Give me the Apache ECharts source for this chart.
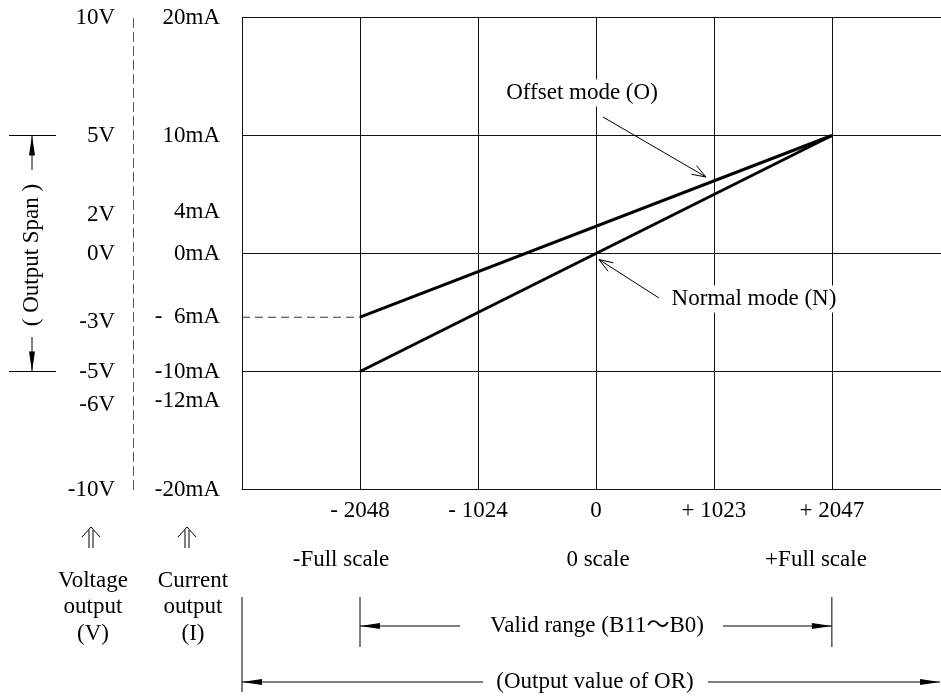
<!DOCTYPE html>
<html>
<head>
<meta charset="utf-8">
<script src="https://cdn.jsdelivr.net/npm/echarts@6/dist/echarts.min.js"></script>
<style>
html,body{margin:0;padding:0;background:#fff;}
#chart{width:941px;height:699px;}
</style>
</head>
<body>
<div id="chart"></div>
<script>
// x axis: value written to OR
const codeMin = -3072;
const codeMax = 3072;
const xTickAt = [-2048, -1024, 0, 1023, 2047];
const xTickText = ['- 2048', '- 1024', '0', '+ 1023', '+ 2047'];
// current labels (mA), placed where the drawing has them
const mATickAt = [20, 10, 3.5, 0, -5.4, -10, -12.5, -20];
const mATickText = ['20mA', '10mA', '4mA', '0mA', '-  6mA', '-10mA', '-12mA', '-20mA'];
// voltage labels (V)
const vTickAt = [10, 5, 1.65, 0, -2.9, -5, -6.4, -10];
const vTickText = ['10V', '5V', '2V', '0V', '-3V', '-5V', '-6V', '-10V'];

// the two modes, y in mA
const codeRange = [-2048, 2047];
const normalMode = [-10, 10];
const offsetMode = [-5.4, 10];

const FONT = '"Liberation Serif", "Times New Roman", serif';
const fs = 23;

let chart = echarts.init(document.getElementById('chart'));

let lbl = function (at, text) {
  return function (v) {
    let i = at.indexOf(v);
    return i < 0 ? '' : text[i];
  };
};

let option = {
  animation: false,
  backgroundColor: '#fff',
  grid: { left: 242, width: 708, top: 17.5, height: 472, outerBoundsMode: 'none', containLabel: false },
  xAxis: {
    type: 'value', min: codeMin, max: codeMax, interval: 1024,
    axisLine: { show: true, onZero: false, lineStyle: { color: '#111', width: 1 } },
    axisTick: { show: false },
    splitLine: { show: true, lineStyle: { color: '#111', width: 1 } },
    axisLabel: {
      customValues: xTickAt, formatter: lbl(xTickAt, xTickText),
      margin: 10, color: '#000', fontFamily: FONT, fontSize: fs
    }
  },
  yAxis: [
    {
      type: 'value', min: -20, max: 20, interval: 10, position: 'left',
      axisLine: { show: true, onZero: false, lineStyle: { color: '#111', width: 1 } },
      axisTick: { show: false },
      splitLine: { show: true, lineStyle: { color: '#111', width: 1 } },
      axisLabel: {
        customValues: mATickAt, formatter: lbl(mATickAt, mATickText),
        margin: 22, color: '#000', fontFamily: FONT, fontSize: fs
      }
    },
    {
      type: 'value', min: -10, max: 10, interval: 5, position: 'left', offset: 109,
      axisLine: { show: true, onZero: false, lineStyle: { color: '#555', width: 1, type: [9, 5] } },
      axisTick: { show: false },
      splitLine: { show: false },
      axisLabel: {
        customValues: vTickAt, formatter: lbl(vTickAt, vTickText),
        margin: 18, color: '#000', fontFamily: FONT, fontSize: fs
      }
    }
  ],
  series: [
    {
      name: 'Normal mode (N)', type: 'line', symbol: 'none',
      lineStyle: { color: '#000', width: 3 },
      data: codeRange.map(function (x, i) { return [x, normalMode[i]]; })
    },
    {
      name: 'Offset mode (O)', type: 'line', symbol: 'none',
      lineStyle: { color: '#000', width: 3 },
      data: codeRange.map(function (x, i) { return [x, offsetMode[i]]; })
    },
    {
      name: 'offset lead', type: 'line', symbol: 'none',
      lineStyle: { color: '#333', width: 1, type: [8, 5] },
      data: [[codeMin, offsetMode[0]], [codeRange[0], offsetMode[0]]]
    }
  ]
};
chart.setOption(option);

// annotations
let px = function (x, y) { return chart.convertToPixel({ gridIndex: 0 }, [x, y]); };
let xL = px(codeMin, 0)[0];
let xA = px(codeRange[0], 0)[0];
let xB = px(codeRange[1], 0)[0];
let yTop = px(0, 10)[1];
let yBot = px(0, -10)[1];
let y0 = px(0, 0);

let g = [];
let line = function (x1, y1, x2, y2, w) {
  g.push({ type: 'line', z: 100, shape: { x1: x1, y1: y1, x2: x2, y2: y2 }, style: { stroke: '#000', lineWidth: w || 1 } });
};
let head = function (x1, y1, x2, y2, len, half) {
  let d = Math.hypot(x2 - x1, y2 - y1), ux = (x2 - x1) / d, uy = (y2 - y1) / d;
  let bx = x2 - ux * len, by = y2 - uy * len;
  g.push({ type: 'polygon', z: 100, shape: { points: [[x2, y2], [bx - uy * half, by + ux * half], [bx + uy * half, by - ux * half]] }, style: { fill: '#000' } });
};
let arrow = function (x1, y1, x2, y2) { line(x1, y1, x2, y2); head(x1, y1, x2, y2, 20, 3); };
let openArrow = function (x1, y1, x2, y2) {
  line(x1, y1, x2, y2);
  let d = Math.hypot(x2 - x1, y2 - y1), ux = (x2 - x1) / d, uy = (y2 - y1) / d;
  let bx = x2 - ux * 14, by = y2 - uy * 14;
  g.push({ type: 'polyline', z: 100, shape: { points: [[bx - uy * 5, by + ux * 5], [x2, y2], [bx + uy * 5, by - ux * 5]] }, style: { stroke: '#000', lineWidth: 1, fill: null } });
};
let doubleUp = function (cx, top, bottom) {
  g.push({ type: 'polyline', z: 100, shape: { points: [[cx - 9, top + 10], [cx, top], [cx + 9, top + 10]] }, style: { stroke: '#000', lineWidth: 1, fill: null } });
  line(cx - 2, top + 3, cx - 2, bottom);
  line(cx + 2, top + 3, cx + 2, bottom);
};
let text = function (s, x, y, extra) {
  let st = { text: s, x: x, y: y, font: fs + 'px ' + FONT, fill: '#000', align: 'center', verticalAlign: 'middle' };
  Object.assign(st, extra || {});
  g.push({ type: 'text', z: 101, style: st });
};

// output span bracket
line(9, yTop, 56, yTop);
line(9, yBot, 56, yBot);
arrow(32, 170, 32, yTop);
arrow(32, 337, 32, yBot);
g.push({ type: 'text', z: 101, x: 32, y: 255, rotation: Math.PI / 2,
  style: { text: '( Output Span )', x: 0, y: 0, font: fs + 'px ' + FONT, fill: '#000', align: 'center', verticalAlign: 'middle' } });

// output type captions
doubleUp(91, 527, 548);
doubleUp(187, 527, 548);
text('Voltage\noutput\n(V)', 93, 607, { lineHeight: 26.5 });
text('Current\noutput\n(I)', 193, 607, { lineHeight: 26.5 });

// scale captions
text('-Full scale', 341, 560);
text('0 scale', 598, 560);
text('+Full scale', 816, 560);

// valid range
line(xA, 597, xA, 647);
line(xB, 597, xB, 647);
arrow(460, 626, xA, 626);
arrow(723, 626, xB, 626);
text('Valid range (B11\uFF5EB0)', 597, 626, { font: fs + 'px ' + FONT + ', "Noto Sans CJK JP"' });

// output value of OR
line(xL, 597, xL, 692);
arrow(483, 682, xL, 682);
arrow(708, 682, 940, 682);
text('(Output value of OR)', 595, 682);

// mode callouts
text('Offset mode (O)', 582, 93, { backgroundColor: '#fff', padding: [2, 4] });
openArrow(603, 117, 706, 177);
text('Normal mode (N)', 754, 299, { backgroundColor: '#fff', padding: [2, 4] });
openArrow(659, 298, y0[0] + 3, y0[1] + 6);

chart.setOption({ graphic: { elements: g } });
</script>
</body>
</html>
